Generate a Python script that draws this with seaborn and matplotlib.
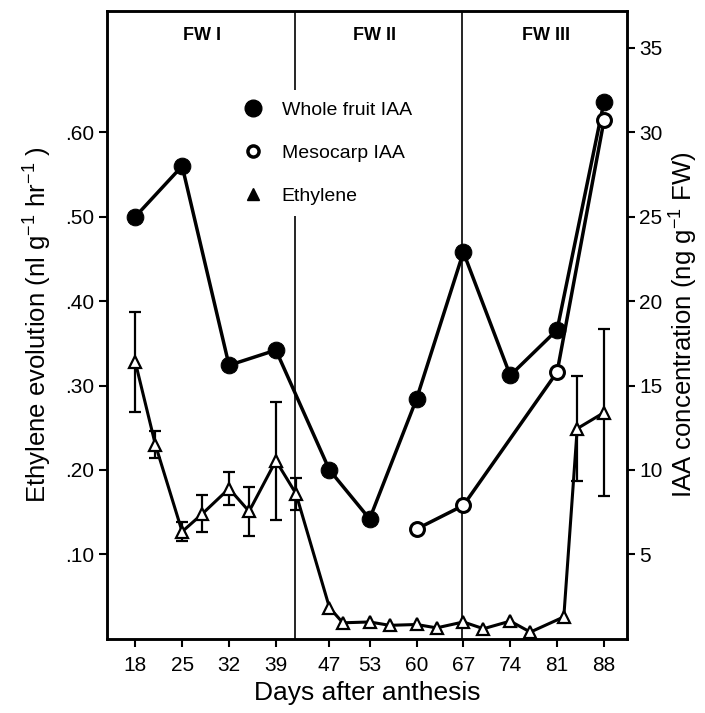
import numpy as np
import pandas as pd
import matplotlib
matplotlib.use('Agg')
import matplotlib.pyplot as plt
from matplotlib.lines import Line2D
import seaborn as sns

# ---- data ----
days_whole = [18, 25, 32, 39, 47, 53, 60, 67, 74, 81, 88]
iaa_whole = [25.0, 28.0, 16.2, 17.1, 10.0, 7.1, 14.2, 22.9, 15.6, 18.3, 31.8]

days_meso = [60, 67, 81, 88]
iaa_meso = [6.5, 7.9, 15.8, 30.7]

days_eth = [18, 21, 25, 28, 32, 35, 39, 42, 47, 49, 53, 56, 60, 63, 67, 70, 74, 77, 82, 84, 88]
ethylene = [0.328, 0.230, 0.127, 0.148, 0.178, 0.151, 0.211, 0.172, 0.037, 0.019, 0.020,
            0.016, 0.017, 0.013, 0.020, 0.012, 0.021, 0.008, 0.026, 0.249, 0.268]
eth_err = [0.059, 0.016, 0.011, 0.022, 0.020, 0.029, 0.070, 0.019, 0, 0, 0,
           0, 0, 0, 0, 0, 0, 0, 0, 0.062, 0.099]

xticks = [18, 25, 32, 39, 47, 53, 60, 67, 74, 81, 88]
left_ticks = [0.10, 0.20, 0.30, 0.40, 0.50, 0.60]
left_labels = ['.10', '.20', '.30', '.40', '.50', '.60']
right_ticks = [5, 10, 15, 20, 25, 30, 35]
phase_bounds = [41.8, 66.8]
phase_labels = ['FW I', 'FW II', 'FW III']
phase_centers = [28.0, 53.8, 79.3]

whole = pd.DataFrame({'day': days_whole, 'iaa': iaa_whole})
meso = pd.DataFrame({'day': days_meso, 'iaa': iaa_meso})
eth = pd.DataFrame({'day': days_eth, 'val': ethylene, 'err': eth_err})

sns.set_theme(style='ticks', rc={
    'axes.edgecolor': 'black', 'axes.labelcolor': 'black', 'text.color': 'black',
    'xtick.color': 'black', 'ytick.color': 'black',
    'xtick.major.width': 1.5, 'ytick.major.width': 1.5,
    'xtick.major.size': 6, 'ytick.major.size': 6,
})
plt.rcParams['font.family'] = ['Liberation Sans', 'DejaVu Sans']
plt.rcParams['mathtext.fontset'] = 'custom'
plt.rcParams['mathtext.rm'] = 'Liberation Sans'
plt.rcParams['mathtext.it'] = 'Liberation Sans'

fig = plt.figure(figsize=(7.05, 7.13), dpi=100)
ax = fig.add_axes([0.152, 0.104, 0.737, 0.881])
ax2 = ax.twinx()

# ethylene on left axis
sns.lineplot(data=eth, x='day', y='val', ax=ax, color='black', lw=2.2,
             marker='^', markersize=9, markerfacecolor='white',
             markeredgecolor='black', markeredgewidth=1.6, zorder=3)
e = eth[eth['err'] > 0]
ax.errorbar(e['day'], e['val'], yerr=e['err'], fmt='none', ecolor='black',
            elinewidth=1.6, capsize=4, capthick=1.6, zorder=2)

for b in phase_bounds:
    ax.axvline(b, color='black', lw=1.2, zorder=1)

# IAA on right axis
sns.lineplot(data=whole, x='day', y='iaa', ax=ax2, color='black', lw=2.5,
             marker='o', markersize=12, markerfacecolor='black',
             markeredgecolor='black', zorder=3)
sns.lineplot(data=meso, x='day', y='iaa', ax=ax2, color='black', lw=2.5,
             marker='o', markersize=10, markerfacecolor='white',
             markeredgecolor='black', markeredgewidth=2.2, zorder=3)

ax.set_xlim(13.8, 91.4)
ax.set_ylim(0, 0.744)
ax2.set_ylim(0, 37.2)
ax.set_xticks(xticks)
ax.set_xticklabels([str(t) for t in xticks], fontsize=15)
ax.set_yticks(left_ticks)
ax.set_yticklabels(left_labels, fontsize=15)
ax2.set_yticks(right_ticks)
ax2.set_yticklabels([str(t) for t in right_ticks], fontsize=15)
ax.tick_params(axis='x', pad=6)
ax2.tick_params(axis='y', pad=3)

ax.set_xlabel('Days after anthesis', fontsize=19, labelpad=5)
ax.set_ylabel('Ethylene evolution (nl g$^{-1}$ hr$^{-1}$ )', fontsize=18.5, labelpad=8)
ax2.set_ylabel('IAA concentration (ng g$^{-1}$ FW)', fontsize=18.5, labelpad=4)

for s in ['top', 'right', 'left', 'bottom']:
    ax.spines[s].set_visible(True)
    ax.spines[s].set_linewidth(1.8)
    ax2.spines[s].set_linewidth(1.8)
ax.tick_params(top=False)

for lab, xc in zip(phase_labels, phase_centers):
    ax.text(xc, 0.715, lab, ha='center', va='center', fontsize=13, fontweight='bold')

handles = [
    Line2D([], [], ls='none', marker='o', markersize=12, color='black'),
    Line2D([], [], ls='none', marker='o', markersize=8, markerfacecolor='white',
           markeredgecolor='black', markeredgewidth=2.5),
    Line2D([], [], ls='none', marker='^', markersize=8, color='black'),
]
leg = ax2.legend(handles, ['Whole fruit IAA', 'Mesocarp IAA', 'Ethylene'],
                 loc='upper left', bbox_to_anchor=(0.22, 0.89), fontsize=14,
                 frameon=True, framealpha=1, edgecolor='none', facecolor='white',
                 handlelength=1.0, handletextpad=1.0, labelspacing=1.3,
                 borderpad=0.6)
leg.set_zorder(10)

fig.savefig('out.png', dpi=100)
